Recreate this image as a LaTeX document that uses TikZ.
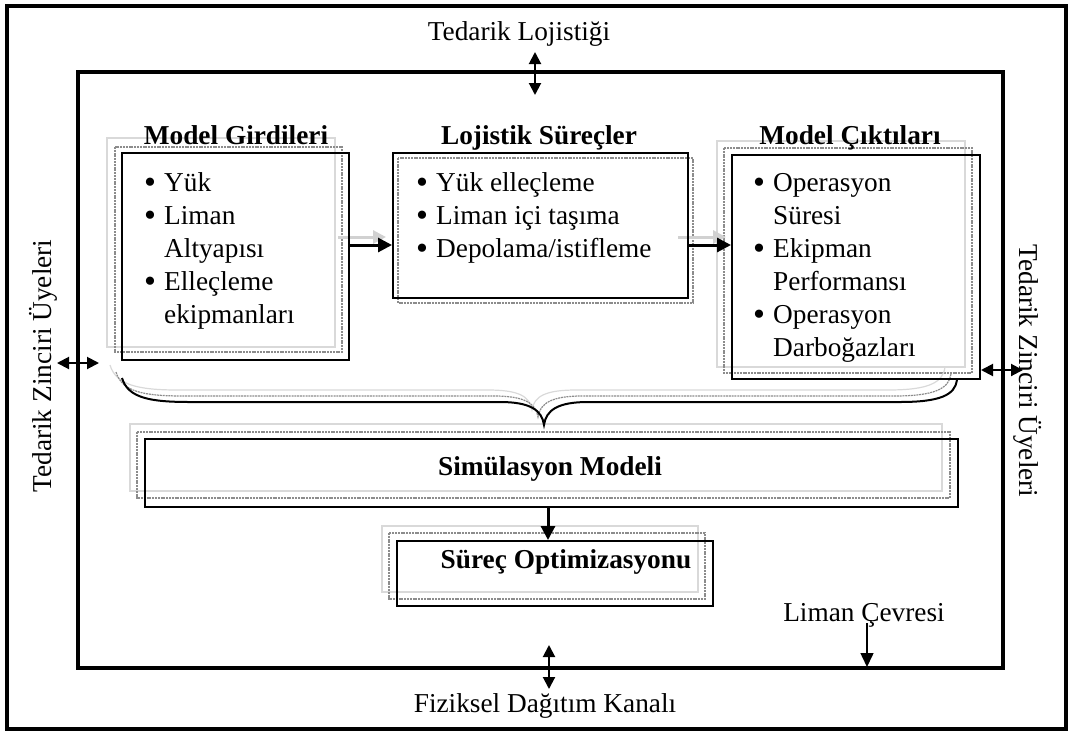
\documentclass[tikz,border=0pt]{standalone}
\usepackage{fontspec}
\setmainfont{Liberation Serif}
\usetikzlibrary{arrows.meta}
\newcommand{\bitem}[1]{\makebox[20pt][l]{\raisebox{-0.08em}{\scalebox{1.25}{•}}}#1}
\newcommand{\bcont}[1]{\hspace*{20pt}#1}
\begin{document}
\begin{tikzpicture}[x=1pt,y=-1pt,
  txt/.style={inner sep=0pt, font=\fontsize{27.3}{33}\selectfont},
  ttl/.style={inner sep=0pt, font=\fontsize{27.3}{33}\selectfont\bfseries, anchor=base},
  lst/.style={inner sep=0pt, anchor=base west, font=\fontsize{27.3}{33}\selectfont},
  frame/.style={draw=black, line width=4pt},
  mainbox/.style={draw=black, line width=2pt, inner sep=0pt},
  shadowA/.style={draw=black!45, line width=1.3pt, dash pattern=on 2pt off 0.8pt},
  shadowB/.style={draw=black!15, line width=1.3pt},
  flow/.style={line width=3pt, -{Triangle[length=14pt,width=14pt]}},
  ghost/.style={line width=3pt, draw=black!18, -{Triangle[length=13pt,width=13pt,fill=black!18]}},
  dbl/.style={line width=2pt, {Triangle[length=12pt,width=12pt]}-{Triangle[length=12pt,width=12pt]}},
  single/.style={line width=1.5pt, -{Triangle[length=14pt,width=13pt]}},
]
\useasboundingbox (0,0) rectangle (1072,732);
% frames
\draw[frame] (7,6) rectangle (1066,729);
\draw[frame] (78,72) rectangle (1003,668);

% shadows of the boxes
\draw[shadowB] (107,138) rectangle (335,347);
\draw[shadowA] (115,147) rectangle (342,352);
\draw[shadowA] (398,158) rectangle (693,303);
\draw[shadowB] (717,141) rectangle (965,367);
\draw[shadowA] (724,148) rectangle (972,373);
\draw[shadowB] (130,424) rectangle (942,491);
\draw[shadowA] (137,432) rectangle (950,498);
\draw[shadowB] (382,526) rectangle (698,592);
\draw[shadowA] (389,533) rectangle (705,599);

% ghost arrows
\draw[ghost] (338,237) -- (386,237);
\draw[ghost] (678,237) -- (726,237);

% shadow braces
\draw[shadowB, line width=1.2pt] (110,365) .. controls (116,385) and (138,390) .. (178,390) -- (488,390)
  .. controls (518,390) and (530,396) .. (532,410) .. controls (534,396) and (546,390) .. (576,390)
  -- (888,390) .. controls (928,390) and (943,383) .. (945,367);
\draw[shadowA, line width=1.2pt] (116,372) .. controls (122,392) and (144,396) .. (184,396) -- (494,396)
  .. controls (524,396) and (536,403) .. (538,417) .. controls (540,403) and (552,396) .. (582,396)
  -- (894,396) .. controls (934,396) and (949,389) .. (951,374);
% main brace
\draw[line width=2pt] (122,378) .. controls (128,398) and (150,402) .. (190,402) -- (500,402)
  .. controls (530,402) and (542,410) .. (544,425) .. controls (546,410) and (558,402) .. (588,402)
  -- (900,402) .. controls (940,402) and (955,395) .. (957,380);

% main boxes
\node[mainbox, minimum width=227pt, minimum height=207pt] (b1) at (235.5,256.5) {};
\node[mainbox, minimum width=295pt, minimum height=145pt] (b2) at (540.5,225.5) {};
\node[mainbox, minimum width=248pt, minimum height=224pt] (b3) at (856,267) {};
\node[mainbox, minimum width=813pt, minimum height=68pt] (sim) at (551.5,473) {};
\node[mainbox, minimum width=316pt, minimum height=65pt] (opt) at (555,573.5) {};

% titles
\node[ttl] (t1) at (236,144) {Model Girdileri};
\node[ttl] (t2) at (539,144) {Lojistik Süreçler};
\node[ttl] (t3) at (850,144) {Model Çıktıları};
\node[ttl] (simt) at (550,475) {Simülasyon Modeli};
\node[ttl] (optt) at (566,568) {Süreç Optimizasyonu};

% lists
\node[lst] (l1) at (144,191) {\parbox[t]{200pt}{\raggedright
  \bitem{Yük}\\ \bitem{Liman}\\ \bcont{Altyapısı}\\ \bitem{Elleçleme}\\ \bcont{ekipmanları}}};
\node[lst] (l2) at (416,191) {\parbox[t]{270pt}{\raggedright
  \bitem{Yük elleçleme}\\ \bitem{Liman içi taşıma}\\ \bitem{Depolama/istifleme}}};
\node[lst] (l3) at (753,191.5) {\parbox[t]{220pt}{\raggedright
  \bitem{Operasyon}\\ \bcont{Süresi}\\ \bitem{Ekipman}\\ \bcont{Performansı}\\ \bitem{Operasyon}\\ \bcont{Darboğazları}}};

% flow arrows
\draw[flow] (b1.east |- 0,245) -- (b2.west |- 0,245);
\draw[flow] (b2.east |- 0,245) -- (b3.west |- 0,245);
\draw[flow] (sim.south -| 548,0) -- (opt.north -| 548,0);

% outer labels
\node[txt, anchor=base] (top) at (519,40) {Tedarik Lojistiği};
\node[txt, anchor=base] (bot) at (545,712) {Fiziksel Dağıtım Kanalı};
\node[txt, rotate=90] (left) at (43,366) {Tedarik Zinciri Üyeleri};
\node[txt, rotate=-90] (right) at (1028,371) {Tedarik Zinciri Üyeleri};
\node[txt, anchor=base] (env) at (864,621) {Liman Çevresi};

% connector ends
\coordinate (topa) at (535,52);
\coordinate (topb) at (535,95);
\coordinate (bota) at (549,645);
\coordinate (botb) at (549,689);
\coordinate (lefta) at (57,363);
\coordinate (leftb) at (99,363);
\coordinate (righta) at (1023,370);
\coordinate (envend) at (867,667);

\draw[dbl] (topa) -- (topb);
\draw[dbl] (bota) -- (botb);
\draw[dbl] (lefta) -- (leftb);
\draw[dbl] (b3.east |- 0,370) -- (righta);
\draw[single] (867,623) -- (envend);
\end{tikzpicture}
\end{document}
